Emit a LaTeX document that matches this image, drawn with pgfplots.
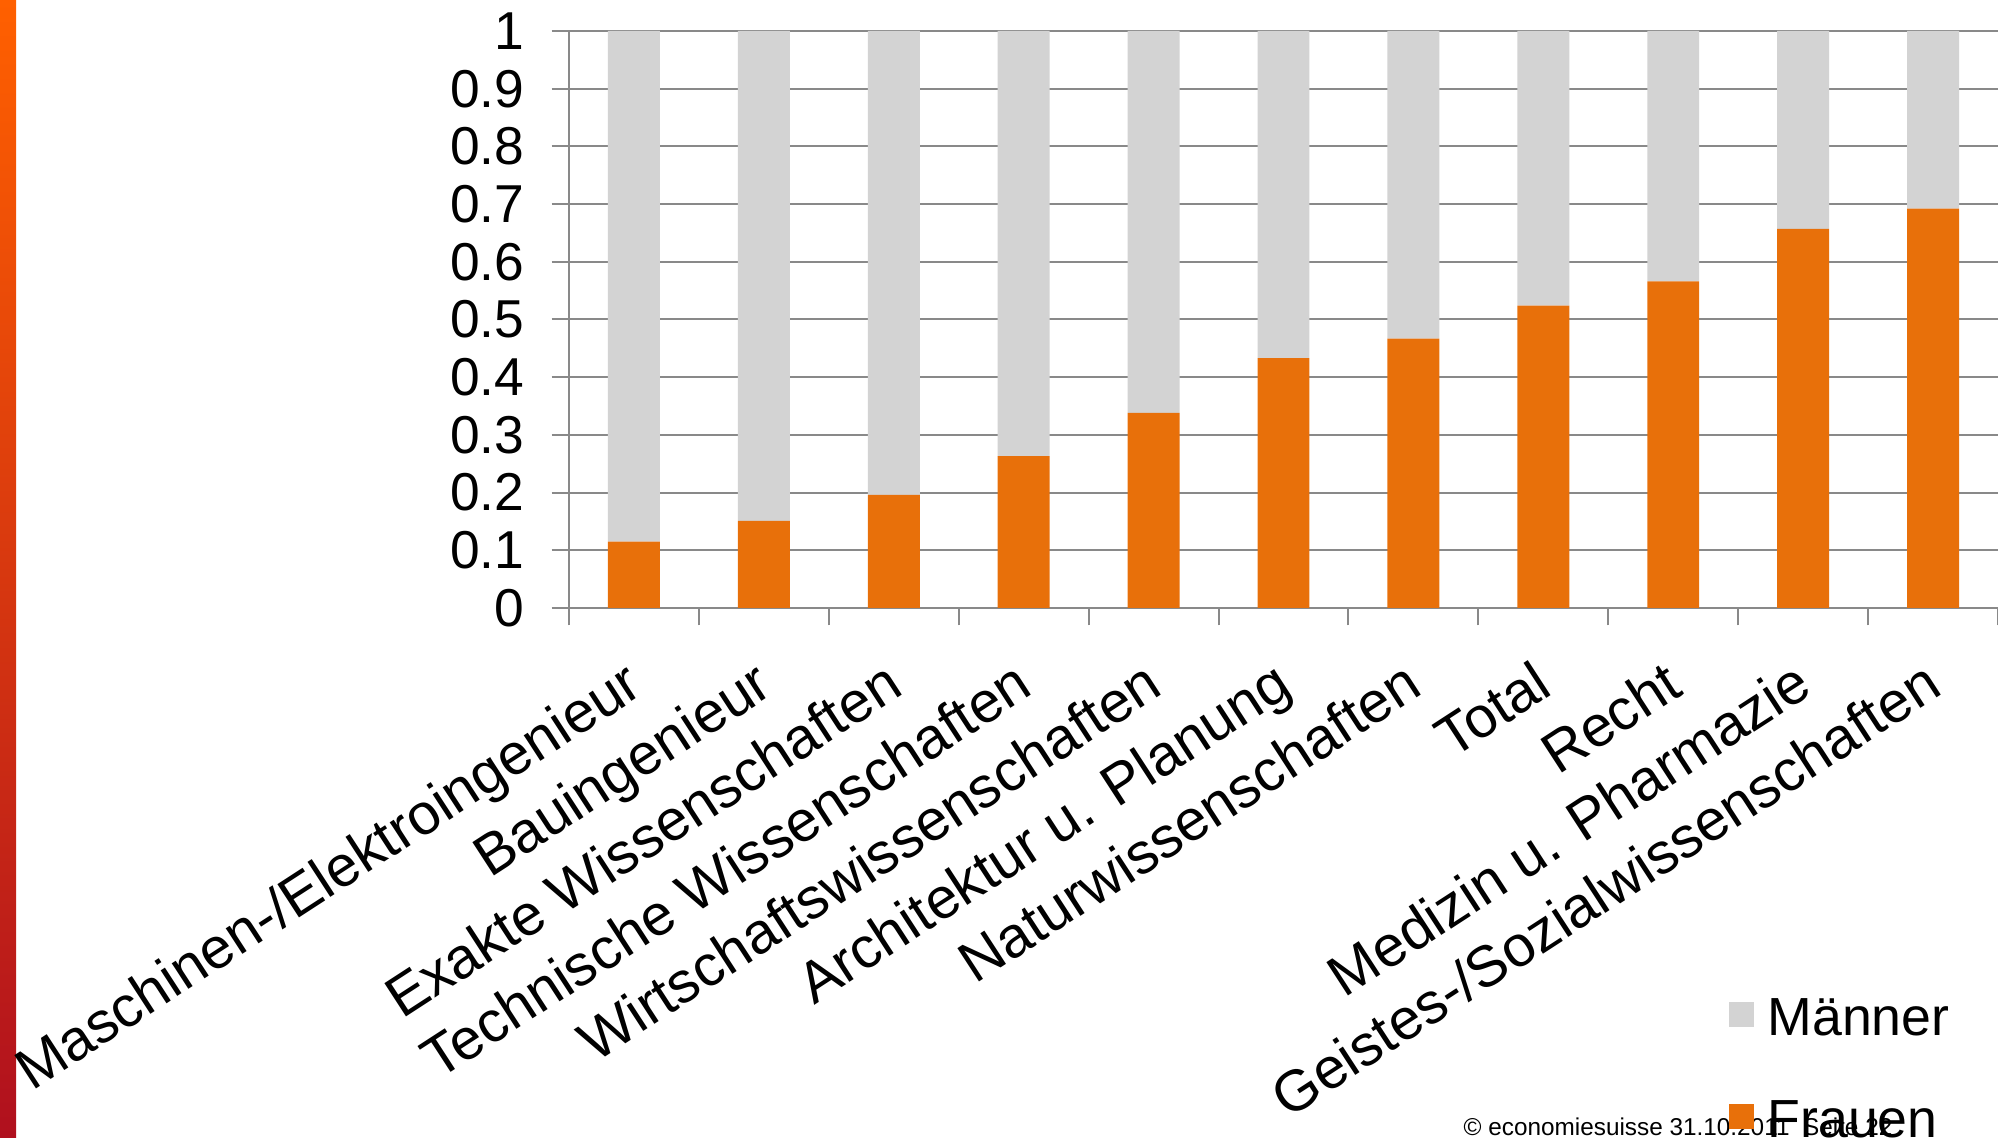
\documentclass[border=0pt]{standalone}
\usepackage{pgfplots}
\pgfplotsset{compat=1.18}
\usepackage{pgfplotstable}
\usepackage{fontspec}
\setmainfont{Liberation Sans}

\definecolor{frauen}{HTML}{E8700A}
\definecolor{maenner}{HTML}{D3D3D3}
\definecolor{gridgray}{HTML}{898989}
\definecolor{stripTop}{HTML}{FF6000}
\definecolor{stripMid}{HTML}{EE4A10}
\definecolor{stripBot}{HTML}{B0101E}

% share of women / men per field of study
\pgfplotstableread{
idx frauen maenner
0  0.115 0.885
1  0.151 0.849
2  0.196 0.804
3  0.263 0.737
4  0.338 0.662
5  0.433 0.567
6  0.467 0.533
7  0.524 0.476
8  0.566 0.434
9  0.657 0.343
10 0.692 0.308
}\shares

\begin{document}
\begin{tikzpicture}
\path[use as bounding box] (0,0) rectangle (599.4pt,341.4pt);
\shade[top color=stripTop, middle color=stripMid, bottom color=stripBot]
  (0,0) rectangle (4.8pt,341.4pt);
\node[anchor=base west, inner sep=0pt, font=\fontsize{7.3}{8}\selectfont]
  at (438.9pt,0.8pt) {© economiesuisse 31.10.2011\ \ Seite 22};
\begin{axis}[
  at={(170.7pt,159pt)}, anchor=south west,
  scale only axis, width=428.7pt, height=173.1pt,
  ybar stacked, bar width=0.4,
  xmin=-0.5, xmax=10.5, ymin=0, ymax=1,
  axis x line*=bottom, axis y line*=left,
  axis line style={gridgray, line width=0.6pt},
  tick align=outside, major tick length=5.2pt,
  tick style={gridgray, line width=0.6pt},
  ytick={0,0.1,0.2,0.3,0.4,0.5,0.6,0.7,0.8,0.9,1},
  yticklabels={0,0.1,0.2,0.3,0.4,0.5,0.6,0.7,0.8,0.9,1},
  ymajorgrids, grid style={gridgray, line width=0.6pt},
  xtick={-0.5,0.5,...,10.5},
  x tick label as interval,
  xticklabels={Maschinen-/Elektroingenieur, Bauingenieur, Exakte Wissenschaften,
    Technische Wissenschaften, Wirtschaftswissenschaften, Architektur u. Planung,
    Naturwissenschaften, Total, Recht, Medizin u. Pharmazie,
    Geistes-/Sozialwissenschaften},
  yticklabel style={font=\fontsize{16}{18}\selectfont, inner sep=0pt, xshift=-8pt},
  xticklabel style={font=\fontsize{17.3}{20}\selectfont,
    xshift=-3.4pt, yshift=-9.6pt, rotate=33, anchor=north east, inner sep=0pt},
  legend style={draw=none, fill=none, at={(0.804,-0.797)}, anchor=west,
    font=\fontsize{16.1}{18}\selectfont,
    nodes={inner sep=0pt, text height=11pt, text depth=0pt},
    column sep=4.2pt, row sep=19.5pt},
  legend cell align=left,
  reverse legend,
  legend image code/.code={\fill[#1] (0pt,-3pt) rectangle (7.5pt,4.5pt);},
  clip=false,
]
\addplot[fill=frauen, draw=none] table[x=idx, y=frauen] {\shares};
\addplot[fill=maenner, draw=none] table[x=idx, y=maenner] {\shares};
\legend{Frauen, Männer}
\end{axis}
\end{tikzpicture}
\end{document}
